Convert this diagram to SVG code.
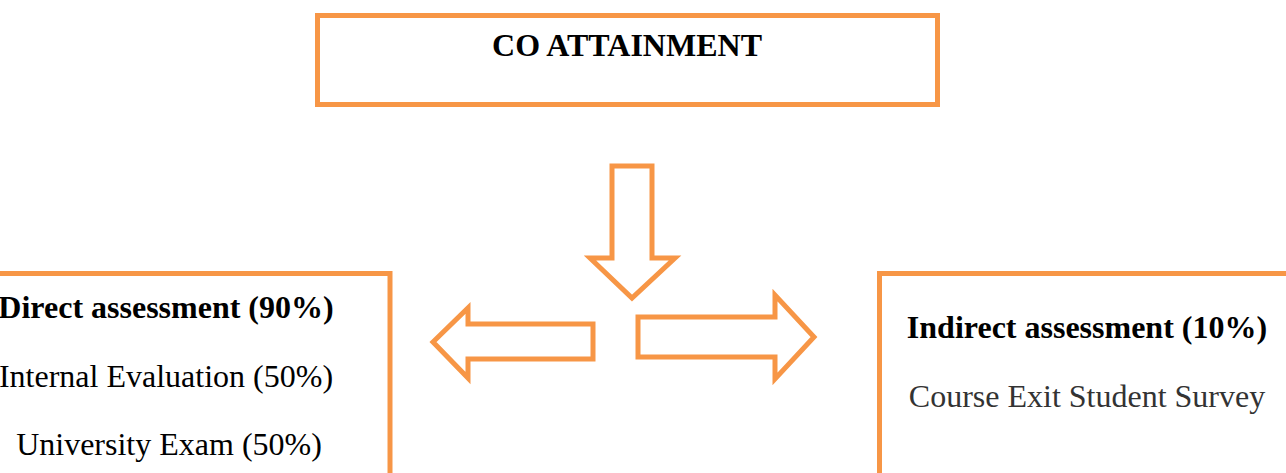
<svg xmlns="http://www.w3.org/2000/svg" width="1286" height="473" viewBox="0 0 1286 473">
<style>
.box{fill:#fff;stroke:#F79646;stroke-width:5}
.arr{fill:#fff;stroke:#F79646;stroke-width:5;stroke-linejoin:miter}
.t{font-family:"Liberation Serif","Times New Roman",serif;font-size:32px;text-anchor:middle;fill:#000}
.b{font-weight:bold}
.g{fill:#333}
</style>
<rect width="1286" height="473" fill="#fff"/>
<g id="co-attainment">
<rect class="box" x="317.5" y="15.5" width="620" height="89"/>
<text class="t b" x="627" y="56">CO ATTAINMENT</text>
</g>
<g id="direct-assessment">
<rect class="box" x="-20" y="273.5" width="410" height="230"/>
<text class="t b" x="166" y="318">Direct assessment (90%)</text>
<text class="t" x="166" y="387">Internal Evaluation (50%)</text>
<text class="t" x="169" y="455">University Exam (50%)</text>
</g>
<g id="indirect-assessment">
<rect class="box" x="879.5" y="273.5" width="430" height="230"/>
<text class="t b" x="1087" y="338">Indirect assessment (10%)</text>
<text class="t g" x="1087" y="407">Course Exit Student Survey</text>
</g>
<g id="connectors">
<polygon class="arr" points="612,166 652,166 652,258 675,258 632,298 590,258 612,258"/>
<polygon class="arr" points="593,324 593,359 468,359 468,378 433,342 468,308 468,324"/>
<polygon class="arr" points="638,317 775,317 775,295 814,337 775,379 775,357 638,357"/>
</g>
</svg>
